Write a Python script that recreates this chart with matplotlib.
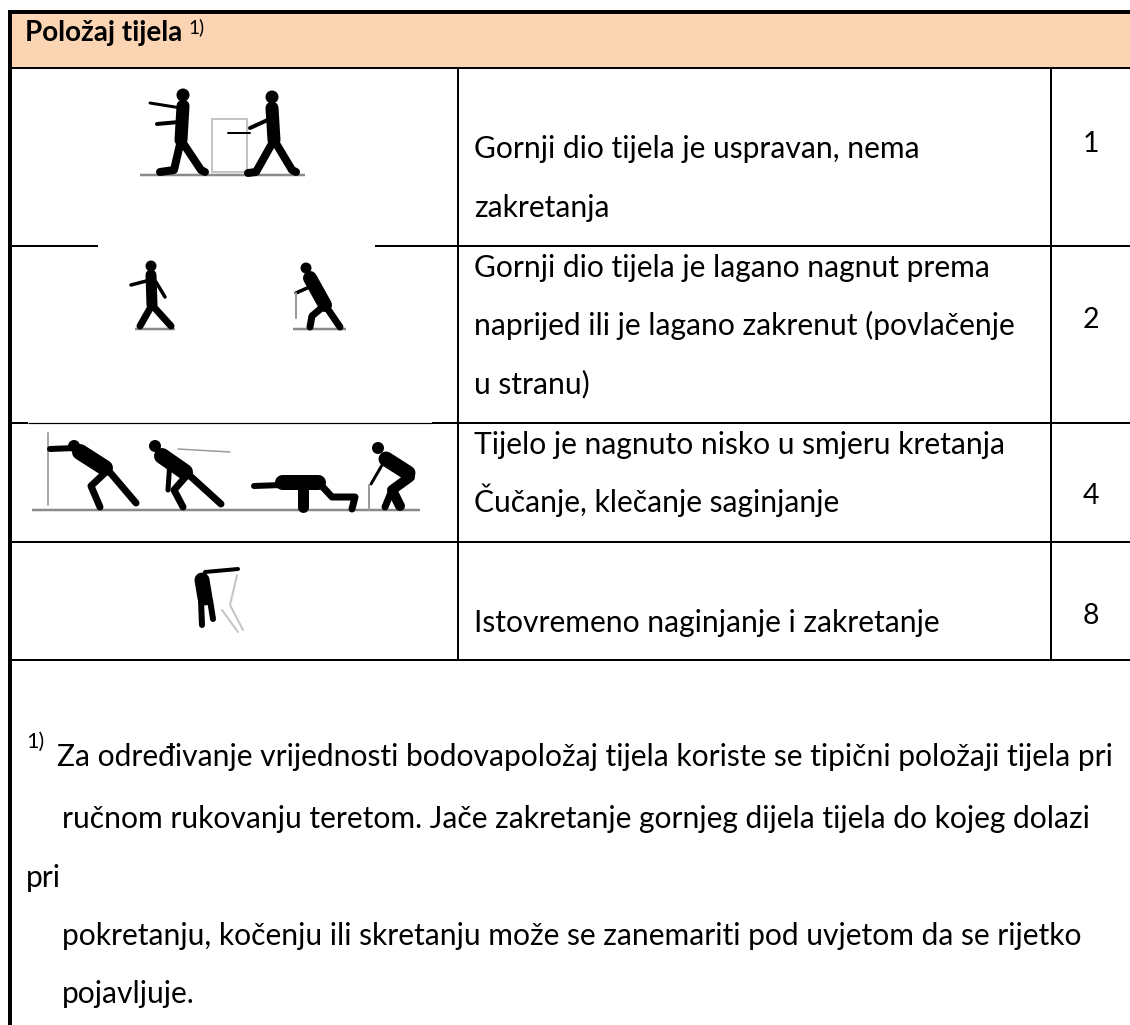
import matplotlib
matplotlib.use("Agg")
import matplotlib.pyplot as plt
from matplotlib.patches import Rectangle, Circle
from matplotlib.textpath import TextPath
from matplotlib.font_manager import FontProperties

# ---- content -------------------------------------------------------------
header_title = "Položaj tijela"
header_note = "1)"
row_lines = [
    ["Gornji dio tijela je uspravan, nema", "zakretanja"],
    ["Gornji dio tijela je lagano nagnut prema",
     "naprijed ili je lagano zakrenut (povlačenje", "u stranu)"],
    ["Tijelo je nagnuto nisko u smjeru kretanja", "Čučanje, klečanje saginjanje"],
    ["Istovremeno naginjanje i zakretanje"],
]
row_scores = ["1", "2", "4", "8"]
footnote_lines = [
    "Za određivanje vrijednosti bodovapoložaj tijela koriste se tipični položaji tijela pri",
    "ručnom rukovanju teretom. Jače zakretanje gornjeg dijela tijela do kojeg dolazi",
    "pri",
    "pokretanju, kočenju ili skretanju može se zanemariti pod uvjetom da se rijetko",
    "pojavljuje.",
]

# ---- layout (pixels) -----------------------------------------------------
row_baselines = [[158, 217], [277, 335, 393], [454, 512], [632]]
score_baselines = [152, 328, 504, 624]
foot_baselines = [766, 828, 887, 945, 1003]
foot_x = [57, 62, 26, 62, 62]

W, H = 1130, 1025
fig = plt.figure(figsize=(W / 100, H / 100), dpi=100)
ax = fig.add_axes([0, 0, 1, 1])
ax.set_xlim(0, W)
ax.set_ylim(H, 0)
ax.axis("off")

FONT = "Lato"
def fit(s, px, weight="normal"):
    fp = FontProperties(family=FONT, weight=weight)
    w = TextPath((0, 0), s, size=100, prop=fp).get_extents().width
    return 100 * px * 0.72 / w

body_fs = fit(row_lines[3][0], 462)
foot_fs = fit(footnote_lines[0], 1052)
head_fs = fit(header_title, 154, "bold")

def px(v):
    return v * 0.72

# header band and frame
ax.add_patch(Rectangle((12, 14), W - 12, 53, fc="#FBD4B4", ec="none", zorder=1))
ax.add_patch(Rectangle((8, 10), W - 8, 4, fc="black", ec="none", zorder=3))
ax.add_patch(Rectangle((8, 10), 4, H - 10, fc="black", ec="none", zorder=3))

def hl(y, x0, x1, w):
    ax.plot([x0, x1], [y, y], color="black", lw=px(w), solid_capstyle="butt", zorder=2)

hl(68, 12, W, 2)
hl(246, 12, 98, 2); hl(246, 375, W, 2)
hl(422.5, 12, 28, 2); hl(422.5, 28, 432, 1.2); hl(422.5, 432, W, 2)
hl(541.5, 12, W, 2)
hl(660, 12, W, 2)
for x in (458, 1051):
    ax.plot([x, x], [68, 660], color="black", lw=px(2), solid_capstyle="butt", zorder=2)

# text
ax.text(25, 41, header_title, fontsize=head_fs, fontweight="bold", family=FONT,
        va="baseline", color="black", zorder=5)
ax.text(188, 33, header_note, fontsize=head_fs * 0.68, family=FONT,
        va="baseline", color="black", zorder=5)
for lines, bases in zip(row_lines, row_baselines):
    for s, b in zip(lines, bases):
        ax.text(474, b, s, fontsize=body_fs, family=FONT, va="baseline", color="black", zorder=5)
for s, b in zip(row_scores, score_baselines):
    ax.text(1091, b, s, fontsize=body_fs * 0.95, family=FONT, va="baseline", ha="center",
            color="black", zorder=5)
ax.text(26, 748, header_note, fontsize=foot_fs * 0.72, family=FONT, va="baseline",
        color="black", zorder=5)
for s, b, x in zip(footnote_lines, foot_baselines, foot_x):
    ax.text(x, b, s, fontsize=foot_fs, family=FONT, va="baseline", color="black", zorder=5)

# ---- pictograms ----------------------------------------------------------
def limb(pts, w=6, c="black"):
    xs, ys = zip(*pts)
    ax.plot(xs, ys, color=c, lw=px(w), solid_capstyle="round", solid_joinstyle="round", zorder=4)

def head(x, y, r=6):
    ax.add_patch(Circle((x, y), r, fc="black", ec="none", zorder=4))

def ground(x0, x1, y):
    ax.plot([x0, x1], [y, y], color="#8a8a8a", lw=px(2.5), solid_capstyle="butt", zorder=3)

G = "#c4c4c4"
# row 1
ground(140, 305, 175)
ax.add_patch(Rectangle((212, 119), 35, 53, fc="none", ec=G, lw=px(2), zorder=3))
head(183, 95, 6.5); limb([(183, 106), (181, 140)], 13)
limb([(181, 108), (150, 103)], 3); limb([(179, 122), (157, 124)], 4)
limb([(181, 140), (174, 170), (160, 172)], 8); limb([(181, 140), (201, 170), (205, 172)], 8)
head(272, 97, 6.5); limb([(272, 108), (274, 140)], 13)
limb([(272, 118), (250, 128)], 4); limb([(250, 133), (228, 133)], 2)
limb([(274, 140), (256, 172), (248, 173)], 8); limb([(274, 140), (292, 170), (296, 172)], 8)

# row 2
ground(135, 175, 329); ground(293, 346, 329)
head(151, 266, 5.5); limb([(151, 275), (152, 305)], 11)
limb([(150, 280), (131, 285)], 3.5); limb([(156, 282), (165, 297)], 3.5)
limb([(152, 305), (140, 326)], 7); limb([(152, 305), (171, 326)], 7)
head(306, 268, 5.5); limb([(310, 278), (325, 305)], 14)
limb([(314, 285), (296, 293)], 3.5); limb([(296, 293), (296, 318)], 2, "#9a9a9a")
limb([(325, 305), (312, 316), (310, 327)], 7); limb([(325, 305), (340, 327)], 7)

# row 3
ground(32, 420, 510)
limb([(48, 433), (48, 505)], 2, "#a8a8a8")
head(74, 446); limb([(50, 449), (76, 448)], 6); limb([(80, 452), (105, 468)], 16)
limb([(108, 470), (91, 486), (100, 507)], 7); limb([(108, 470), (136, 503)], 7)
head(155, 446); limb([(162, 456), (185, 472)], 16); limb([(170, 460), (168, 490)], 5)
limb([(178, 449), (230, 452)], 1.5, "#9a9a9a")
limb([(188, 474), (174, 490), (183, 507)], 7); limb([(188, 474), (221, 504)], 7)
limb([(254, 486), (282, 485)], 6); limb([(282, 482), (318, 482)], 15)
limb([(320, 484), (332, 497), (355, 497), (352, 509)], 7); limb([(303, 488), (303, 507)], 11)
head(378, 448); limb([(386, 459), (408, 473)], 15); limb([(385, 460), (371, 484)], 3)
limb([(369, 485), (369, 510)], 2, "#9a9a9a")
limb([(410, 477), (392, 490), (400, 506)], 10); limb([(392, 490), (385, 507)], 7)

# row 4
limb([(205, 572), (238, 569)], 4)
limb([(202, 580), (205, 598)], 15); limb([(201, 600), (202, 625)], 6); limb([(210, 600), (213, 619)], 6)
limb([(237, 575), (230, 605), (243, 630)], 2, G); limb([(222, 610), (238, 632)], 2, G)

fig.savefig("out.png", dpi=100, facecolor="white")
